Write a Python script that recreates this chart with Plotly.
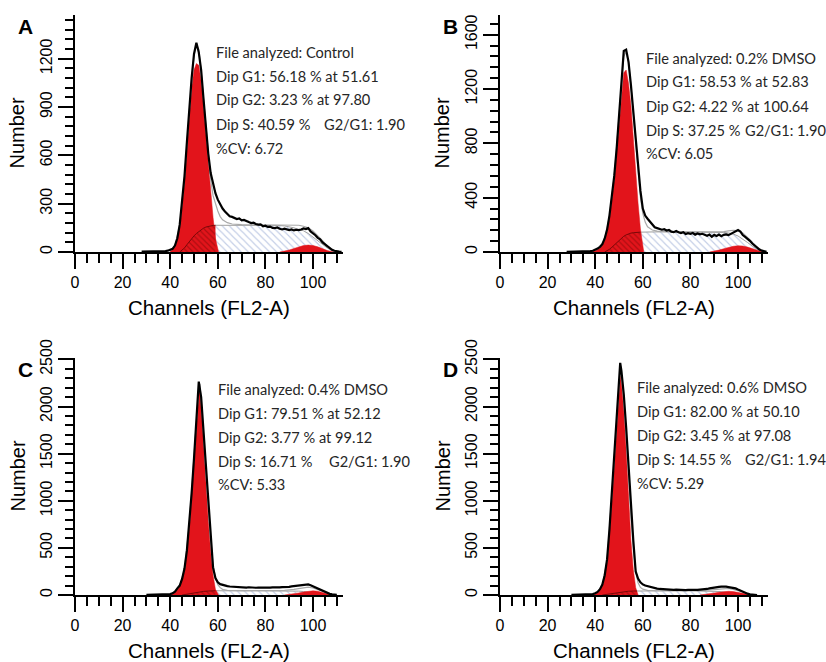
import plotly.graph_objects as go

# ---------------- data ----------------
# Panel A : Control
a_hist_ch = list(range(28, 113))
a_hist_n = [2, 2, 3, 3, 3, 4, 4, 4, 5, 5,
            6, 8, 12, 20, 40, 85, 170, 300, 470, 680,
            890, 1080, 1230, 1300, 1240, 1130, 950, 770, 610, 490,
            420, 365, 325, 295, 270, 252, 238, 222, 218, 212,
            205, 208, 196, 199, 190, 186, 180, 182, 174, 170,
            172, 160, 163, 156, 158, 150, 148, 152, 144, 140,
            145, 138, 136, 140, 134, 138, 136, 140, 146, 142,
            148, 128, 118, 104, 88, 78, 60, 48, 38, 25,
            14, 8, 3, 2, 1]
a_g1_ch = [40, 41, 42, 43, 44, 45, 46, 47, 48, 49, 50, 51, 52, 53, 54, 55, 56, 57, 58, 59, 60, 60.3]
a_g1_n = [8, 16, 35, 78, 160, 285, 450, 655, 850, 1020, 1130, 1170, 1160, 1060, 900, 720, 520, 340, 215, 85, 12, 0]
a_sg1_ch = [44, 45, 46, 47, 48, 49, 50, 51, 52, 53, 54, 55, 56, 57, 58, 59]
a_sg1_n = [0, 10, 25, 45, 65, 85, 100, 115, 128, 138, 148, 155, 160, 163, 165, 166]
a_s_ch = [58.8, 60, 65, 70, 75, 80, 85, 88, 90, 92, 94, 96, 98, 100, 102, 104, 106, 108, 109, 110]
a_s_n = [166, 166, 167, 167, 167, 166, 165, 162, 158, 150, 140, 132, 115, 92, 68, 45, 25, 8, 3, 0]
a_g2_ch = [86, 88, 90, 92, 94, 96, 98, 100, 102, 104, 106, 108, 109]
a_g2_n = [0, 5, 12, 22, 32, 40, 43, 40, 32, 20, 9, 2, 0]
a_fit_ch = [40, 42, 44, 46, 48, 50, 51, 52, 53, 54, 55, 56, 57, 58, 59, 60, 61, 62,
            64, 66, 70, 75, 80, 85, 90, 94, 96, 98, 100, 102, 104, 106, 108, 110]
a_fit_n = [8, 38, 165, 460, 870, 1220, 1290, 1260, 1120, 940, 760, 590, 450, 350, 300, 255, 220, 200,
           182, 174, 170, 170, 170, 170, 169, 166, 160, 150, 130, 102, 70, 38, 14, 2]

# Panel B : 0.2% DMSO
b_hist_ch = list(range(28, 113))
b_hist_n = [2, 2, 3, 3, 3, 4, 4, 4, 4, 5,
            6, 9, 15, 25, 38, 58, 100, 165, 270, 400,
            560, 760, 990, 1250, 1480, 1490, 1400, 1230, 1030, 860,
            640, 450, 320, 268, 245, 222, 200, 182, 176, 170,
            164, 168, 158, 162, 150, 146, 155, 145, 140, 146,
            132, 138, 134, 140, 128, 136, 130, 134, 126, 120,
            128, 112, 126, 118, 128, 116, 126, 130, 124, 134,
            140, 156, 162, 150, 125, 112, 100, 82, 62, 45,
            30, 18, 10, 3, 1]
b_g1_ch = [39, 40, 41, 42, 43, 44, 45, 46, 47, 48, 49, 50, 51, 52, 53, 54, 55, 56, 57, 58, 59, 60, 60.4]
b_g1_n = [6, 12, 20, 32, 50, 90, 150, 250, 375, 530, 725, 940, 1170, 1320, 1340, 1240, 1080, 820, 560, 360, 170, 45, 0]
b_sg1_ch = [44, 45, 46, 47, 48, 49, 50, 51, 52, 53, 54, 55, 56, 57, 58, 59]
b_sg1_n = [0, 8, 20, 35, 52, 70, 88, 103, 116, 126, 134, 139, 142, 144, 145, 146]
b_s_ch = [58.8, 60, 65, 70, 75, 80, 85, 90, 94, 96, 98, 100, 102, 104, 106, 108, 110, 111]
b_s_n = [146, 147, 148, 148, 148, 147, 147, 146, 144, 140, 132, 118, 96, 70, 44, 20, 4, 0]
b_g2_ch = [88, 90, 92, 94, 96, 98, 100, 102, 104, 106, 108, 110, 111]
b_g2_n = [0, 6, 14, 24, 34, 42, 46, 44, 36, 24, 11, 2, 0]
b_fit_ch = [40, 42, 44, 46, 48, 50, 51, 52, 53, 54, 55, 56, 57, 58, 59, 60, 61, 62,
            64, 66, 70, 80, 90, 94, 96, 98, 100, 102, 104, 106, 108, 110, 111]
b_fit_n = [12, 35, 95, 265, 560, 990, 1240, 1440, 1475, 1395, 1225, 1010, 790, 570, 400, 285, 220, 185,
           162, 154, 150, 148, 148, 150, 155, 160, 158, 140, 108, 72, 38, 12, 3]

# Panel C : 0.4% DMSO
c_hist_ch = list(range(30, 111))
c_hist_n = [2, 2, 3, 3, 3, 3, 4, 4, 5, 7,
            10, 18, 36, 70, 100, 170, 280, 470, 760, 1080,
            1450, 1850, 2265, 2100, 1740, 1330, 970, 620, 290, 180,
            135, 115, 106, 98, 94, 90, 88, 86, 82, 84,
            80, 83, 79, 82, 78, 80, 77, 79, 78, 76,
            78, 80, 78, 81, 79, 82, 80, 84, 82, 88,
            86, 92, 94, 96, 100, 104, 106, 110, 112, 104,
            92, 80, 68, 56, 44, 32, 20, 12, 6, 2,
            1]
c_g1_ch = [40, 41, 42, 43, 44, 45, 46, 47, 48, 49, 50, 51, 52, 52.5, 53, 54, 55, 56, 57, 58, 59, 60, 60.3]
c_g1_n = [8, 15, 32, 64, 95, 160, 265, 450, 735, 1050, 1410, 1800, 2130, 2177, 2050, 1640, 1180, 780, 460, 210, 60, 8, 0]
c_sg1_ch = [45, 46, 48, 50, 52, 54, 56, 58, 59]
c_sg1_n = [0, 5, 14, 24, 32, 38, 42, 44, 45]
c_s_ch = [58.8, 60, 70, 80, 88, 92, 94, 96, 98, 100, 102, 104, 106, 107]
c_s_n = [45, 45, 46, 46, 45, 43, 41, 37, 31, 23, 15, 8, 2, 0]
c_g2_ch = [88, 90, 92, 94, 96, 98, 100, 102, 104, 106, 107, 108]
c_g2_n = [0, 5, 12, 22, 32, 40, 44, 40, 28, 12, 4, 0]
c_fit_ch = [40, 42, 44, 46, 48, 50, 51, 52, 52.5, 53, 54, 55, 56, 57, 58, 59, 60, 61, 62,
            64, 70, 80, 88, 92, 96, 98, 100, 102, 104, 106, 108, 109]
c_fit_n = [8, 34, 100, 275, 745, 1430, 1850, 2200, 2240, 2080, 1700, 1290, 920, 590, 330, 180, 110, 78, 60,
           50, 47, 47, 50, 60, 78, 84, 74, 56, 35, 15, 4, 0]

# Panel D : 0.6% DMSO
d_hist_ch = list(range(30, 51)) + [50.5] + list(range(51, 109))
d_hist_n = [2, 2, 2, 3, 3, 3, 4, 5, 6, 10,
            18, 33, 62, 110, 210, 380, 700, 1080, 1500, 1860,
            2300, 2464, 2380, 2130, 1780, 1350, 900, 580, 250, 175, 135,
            112, 100, 92, 86, 78, 72, 68, 64, 62, 58,
            60, 56, 55, 54, 57, 54, 53, 55, 52, 54,
            53, 55, 56, 54, 57, 58, 60, 64, 70, 76,
            80, 84, 86, 88, 90, 88, 84, 82, 76, 70,
            58, 46, 35, 24, 14, 8, 4, 1, 0]
d_g1_ch = [39, 40, 41, 42, 43, 44, 45, 46, 47, 48, 49, 50, 50.5, 51, 52, 53, 54, 55, 56, 57, 58]
d_g1_n = [8, 16, 30, 58, 105, 200, 360, 670, 1040, 1450, 1800, 2200, 2323, 2250, 1960, 1540, 1000, 580, 270, 80, 0]
d_sg1_ch = [43, 44, 46, 48, 50, 52, 54, 56, 57.5]
d_sg1_n = [0, 4, 12, 22, 30, 36, 40, 42, 43]
d_s_ch = [56.5, 58, 70, 80, 86, 90, 92, 94, 96, 98, 100, 102, 104, 105]
d_s_n = [42, 43, 44, 44, 43, 40, 37, 32, 26, 19, 12, 6, 1, 0]
d_g2_ch = [84, 86, 88, 90, 92, 94, 96, 98, 100, 102, 104, 106]
d_g2_n = [0, 4, 10, 20, 29, 36, 39, 36, 28, 16, 6, 0]
d_fit_ch = [39, 41, 43, 45, 47, 49, 50, 50.5, 51, 52, 53, 54, 55, 56, 57, 58, 59, 60,
            62, 66, 80, 86, 90, 94, 96, 98, 100, 102, 104, 106, 107]
d_fit_n = [8, 30, 105, 370, 1060, 1830, 2250, 2400, 2340, 2080, 1700, 1250, 850, 500, 260, 130, 80, 62,
           50, 45, 45, 48, 58, 70, 70, 60, 44, 26, 10, 2, 0]

panel_letters = ["A", "B", "C", "D"]
file_names = ["Control", "0.2% DMSO", "0.4% DMSO", "0.6% DMSO"]
g1_text = ["56.18 % at 51.61", "58.53 % at 52.83", "79.51 % at 52.12", "82.00 % at 50.10"]
g2_text = ["3.23 % at 97.80", "4.22 % at 100.64", "3.77 % at 99.12", "3.45 % at 97.08"]
s_text = ["40.59 %", "37.25 %", "16.71 %", "14.55 %"]
ratio_text = ["1.90", "1.90", "1.90", "1.94"]
cv_text = ["6.72", "6.05", "5.33", "5.29"]
y_tops = [1472, 1745, 2515, 2515]
y_dticks = [300, 400, 500, 500]

# ---------------- styling / layout ----------------
W, H = 826, 662
RED = "#e2141b"
DARKRED = "#7a0808"
BLUE = "#8499cc"
TXT = "#262626"

def px_x(p):
    return p / W

def px_y(p):
    return 1 - p / H

# pixel boxes of the four plot areas (left, right, top, bottom)
boxes = [(75, 343, 15, 252), (500, 768, 15, 252), (75, 343, 358, 595), (500, 768, 358, 595)]

fig = go.Figure()

series = [
    (a_hist_ch, a_hist_n, a_g1_ch, a_g1_n, a_sg1_ch, a_sg1_n, a_s_ch, a_s_n, a_g2_ch, a_g2_n, a_fit_ch, a_fit_n),
    (b_hist_ch, b_hist_n, b_g1_ch, b_g1_n, b_sg1_ch, b_sg1_n, b_s_ch, b_s_n, b_g2_ch, b_g2_n, b_fit_ch, b_fit_n),
    (c_hist_ch, c_hist_n, c_g1_ch, c_g1_n, c_sg1_ch, c_sg1_n, c_s_ch, c_s_n, c_g2_ch, c_g2_n, c_fit_ch, c_fit_n),
    (d_hist_ch, d_hist_n, d_g1_ch, d_g1_n, d_sg1_ch, d_sg1_n, d_s_ch, d_s_n, d_g2_ch, d_g2_n, d_fit_ch, d_fit_n),
]

annotations = []
for i, (hx, hy, g1x, g1y, sgx, sgy, sx, sy, g2x, g2y, fx, fy) in enumerate(series):
    xa = "x" if i == 0 else f"x{i+1}"
    ya = "y" if i == 0 else f"y{i+1}"
    common = dict(xaxis=xa, yaxis=ya, mode="lines", hoverinfo="skip", showlegend=False)
    # S phase (blue hatched)
    fig.add_trace(go.Scatter(x=sx, y=sy, line=dict(color="#a0a0a0", width=1), fill="tozeroy",
                             fillpattern=dict(shape="\\", fgcolor=BLUE, bgcolor="white", size=5, solidity=0.22),
                             **common))
    # G1 peak (red)
    fig.add_trace(go.Scatter(x=g1x, y=g1y, line=dict(color=RED, width=0.5), fill="tozeroy",
                             fillcolor=RED, **common))
    # S phase under the G1 peak (dark red hatched)
    fig.add_trace(go.Scatter(x=sgx, y=sgy, line=dict(color=DARKRED, width=1), fill="tozeroy",
                             fillpattern=dict(shape="\\", fgcolor=DARKRED, bgcolor=RED, size=4, solidity=0.3),
                             **common))
    # G2 peak (red)
    fig.add_trace(go.Scatter(x=g2x, y=g2y, line=dict(color=RED, width=0.5), fill="tozeroy",
                             fillcolor=RED, **common))
    # model fit (grey)
    fig.add_trace(go.Scatter(x=fx, y=fy, line=dict(color="#a8a8a8", width=1.2), **common))
    # histogram outline (black)
    fig.add_trace(go.Scatter(x=hx, y=hy, line=dict(color="black", width=2.2), **common))

    l, r, t, b = boxes[i]
    xkey = "xaxis" if i == 0 else f"xaxis{i+1}"
    ykey = "yaxis" if i == 0 else f"yaxis{i+1}"
    fig.layout[xkey] = dict(
        domain=[px_x(l), px_x(r)], anchor=ya, range=[0, 112.6], automargin=False,
        showline=True, linecolor="black", linewidth=2, mirror=False,
        ticks="outside", ticklen=15, tickwidth=2, tickcolor="black",
        tick0=0, dtick=20, showgrid=False, zeroline=False,
        minor=dict(ticks="outside", ticklen=9, tickwidth=2, tickcolor="black", dtick=5, tick0=0, showgrid=False),
        tickfont=dict(family="Liberation Sans, Arial, sans-serif", size=16, color="black"),
    )
    fig.layout[ykey] = dict(
        domain=[px_y(b), px_y(t)], anchor=xa, range=[0, y_tops[i]], automargin=False,
        showline=True, linecolor="black", linewidth=2,
        ticks="outside", ticklen=15, tickwidth=2, tickcolor="black",
        tick0=0, dtick=y_dticks[i], showgrid=False, zeroline=False,
        minor=dict(ticks="outside", ticklen=8, tickwidth=2, tickcolor="black",
                   dtick=y_dticks[i] / 5, tick0=0, showgrid=False),
        tickangle=-90,
        tickfont=dict(family="Liberation Sans Narrow, Arial Narrow, Liberation Sans, Arial", size=16, color="black"),
    )

    # axis titles
    annotations.append(dict(text="Channels (FL2-A)", xref="paper", yref="paper",
                            x=px_x((l + r) / 2 - 0.5), y=px_y(b + 55), showarrow=False,
                            xanchor="center", yanchor="middle",
                            font=dict(family="Liberation Sans, Arial", size=20.5, color="black")))
    annotations.append(dict(text="Number", xref="paper", yref="paper",
                            x=px_x(l - 58), y=px_y((t + b) / 2), showarrow=False, textangle=-90,
                            xanchor="center", yanchor="middle",
                            font=dict(family="Liberation Sans, Arial", size=20, color="black")))
    # panel letter
    annotations.append(dict(text=f"<b>{panel_letters[i]}</b>", xref="paper", yref="paper",
                            x=px_x(l - 50), y=px_y(t + 11), showarrow=False,
                            xanchor="center", yanchor="middle",
                            font=dict(family="Liberation Sans, Arial", size=21, color="black")))

# analysis text blocks (left x, first line centre y, G2/G1 x)
text_pos = [(214, 52, 322), (644, 58, 743), (216, 389, 327), (635, 387, 743)]
for i, (tx, ty, rx) in enumerate(text_pos):
    lines = [f"File analyzed: {file_names[i]}",
             f"Dip G1: {g1_text[i]}",
             f"Dip G2: {g2_text[i]}",
             f"Dip S: {s_text[i]}",
             f"%CV: {cv_text[i]}"]
    for k, s in enumerate(lines):
        annotations.append(dict(text=s, xref="paper", yref="paper", x=px_x(tx), y=px_y(ty + 24 * k),
                                showarrow=False, xanchor="left", yanchor="middle",
                                font=dict(family="Lato, Open Sans, sans-serif", size=14.6, color=TXT)))
    annotations.append(dict(text=f"G2/G1: {ratio_text[i]}", xref="paper", yref="paper",
                            x=px_x(rx), y=px_y(ty + 24 * 3), showarrow=False,
                            xanchor="left", yanchor="middle",
                            font=dict(family="Lato, Open Sans, sans-serif", size=14.6, color=TXT)))

fig.update_layout(width=W, height=H, margin=dict(l=0, r=0, t=0, b=0),
                  paper_bgcolor="white", plot_bgcolor="white",
                  showlegend=False, annotations=annotations)

fig.write_html("out.html", config={"displayModeBar": False},
               post_script="document.body.style.margin='0px';")
